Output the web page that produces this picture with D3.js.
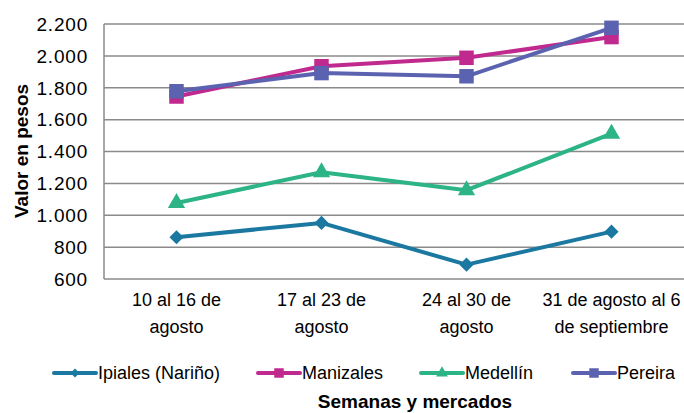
<!DOCTYPE html>
<html>
<head>
<meta charset="utf-8">
<script src="https://cdn.jsdelivr.net/npm/d3@7"></script>
<style>
  html, body { margin: 0; padding: 0; background: #fff; }
  svg { display: block; }
  text { font-family: "Liberation Sans", Arial, sans-serif; fill: #000; }
</style>
</head>
<body>
<svg id="chart" width="684" height="413"></svg>
<script>
const categories = [
  ["10 al 16 de", "agosto"],
  ["17 al 23 de", "agosto"],
  ["24 al 30 de", "agosto"],
  ["31 de agosto al 6", "de septiembre"]
];
const seriesNames = ["Ipiales (Nariño)", "Manizales", "Medellín", "Pereira"];
const ipiales   = [862, 952, 690, 897];
const manizales = [1745, 1935, 1988, 2118];
const medellin  = [1077, 1270, 1157, 1512];
const pereira   = [1778, 1892, 1872, 2176];
const yTicks = [600, 800, 1000, 1200, 1400, 1600, 1800, 2000, 2200];
const colors = ["#1b78a0", "#c0298e", "#2cb386", "#5b62b0"];
const symbols = ["diamond", "square", "triangle", "square"];
const yTitle = "Valor en pesos";
const xTitle = "Semanas y mercados";

(function () {
const series = [ipiales, manizales, medellin, pereira].map((v, i) => ({
  name: seriesNames[i], values: v, color: colors[i], symbol: symbols[i]
}));

const svg = d3.select("#chart");
const pLeft = 104, pRight = 684, pTop = 24, pBottom = 279;

const x = d3.scalePoint().domain(d3.range(categories.length)).range([pLeft, pRight]).padding(0.5);
const y = d3.scaleLinear().domain([600, 2200]).range([pBottom, pTop]);

const loc = d3.formatLocale({decimal: ",", thousands: ".", grouping: [3], currency: ["$", ""]});
const fmt = loc.format(",");

// gridlines
svg.append("g").selectAll("line").data(yTicks).join("line")
  .attr("x1", pLeft).attr("x2", pRight)
  .attr("y1", d => y(d)).attr("y2", d => y(d))
  .attr("stroke", "#8a8a8a").attr("stroke-width", 1.5);
svg.append("line").attr("x1", pLeft).attr("x2", pLeft).attr("y1", pTop).attr("y2", pBottom)
  .attr("stroke", "#8a8a8a").attr("stroke-width", 1.5);

// y tick labels
svg.append("g").selectAll("text").data(yTicks).join("text")
  .attr("x", 88).attr("y", d => y(d)).attr("dy", "0.36em")
  .attr("text-anchor", "end").attr("font-size", 19).attr("letter-spacing", 0.8)
  .text(d => fmt(d));

// x tick labels
const xl = svg.append("g").selectAll("text").data(categories).join("text")
  .attr("text-anchor", "middle").attr("font-size", 18);
xl.each(function(lines, i) {
  const t = d3.select(this);
  lines.forEach((ln, j) => {
    t.append("tspan").attr("x", x(i)).attr("y", 306 + j * 27).text(ln);
  });
});

function symPath(type, size) {
  if (type === "triangle") return d3.symbol(d3.symbolTriangle, size)();
  return d3.symbol(d3.symbolSquare, size)();
}
function symTransform(type, px, py) {
  return type === "diamond" ? `translate(${px},${py}) rotate(45)` : `translate(${px},${py})`;
}

const line = d3.line().x((d, i) => x(i)).y(d => y(d));

series.forEach(s => {
  const g = svg.append("g");
  g.append("path").datum(s.values).attr("d", line)
    .attr("fill", "none").attr("stroke", s.color).attr("stroke-width", 4)
    .attr("stroke-linejoin", "round");
  const size = s.symbol === "diamond" ? 100 : s.symbol === "square" ? 210 : 130;
  g.selectAll("path.m").data(s.values).join("path").attr("class", "m")
    .attr("d", symPath(s.symbol, size))
    .attr("transform", (d, i) => symTransform(s.symbol, x(i), y(d)))
    .attr("fill", s.color);
});

// legend
const legX = [54, 258, 421, 573];
const legY = 373;
series.forEach((s, i) => {
  const g = svg.append("g");
  g.append("line").attr("x1", legX[i]).attr("x2", legX[i] + 42).attr("y1", legY).attr("y2", legY)
    .attr("stroke", s.color).attr("stroke-width", 4).attr("stroke-linecap", "round");
  const size = s.symbol === "diamond" ? 40 : s.symbol === "square" ? 90 : 60;
  g.append("path").attr("d", symPath(s.symbol, size))
    .attr("transform", symTransform(s.symbol, legX[i] + 21, legY))
    .attr("fill", s.color);
  g.append("text").attr("x", legX[i] + 44).attr("y", legY).attr("dy", "0.36em")
    .attr("font-size", 18).text(s.name);
});

// axis titles
svg.append("text").attr("x", 415).attr("y", 401).attr("dy", "0.36em")
  .attr("text-anchor", "middle").attr("font-size", 19).attr("font-weight", "bold")
  .text(xTitle);
svg.append("text").attr("transform", `translate(21,151) rotate(-90)`).attr("dy", "0.36em")
  .attr("text-anchor", "middle").attr("font-size", 19).attr("font-weight", "bold")
  .text(yTitle);
})();
</script>
</body>
</html>
